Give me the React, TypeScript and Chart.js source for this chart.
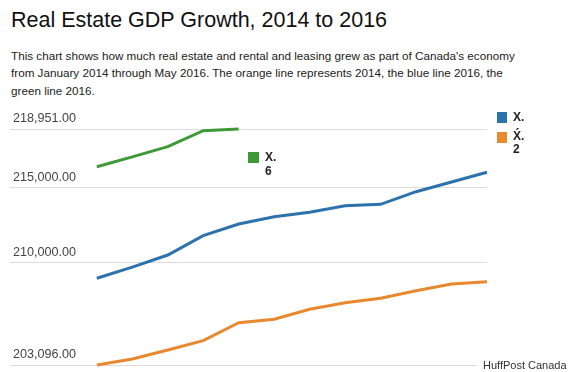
import React, { useEffect, useRef } from "react";
import { Chart, registerables } from "chart.js";

Chart.register(...registerables);

const months = ["Jan", "Feb", "Mar", "Apr", "May", "Jun", "Jul", "Aug", "Sep", "Oct", "Nov", "Dec"];
const series2014 = [203096, 203500, 204104, 204729, 205938, 206167, 206838, 207282, 207577, 208088, 208538, 208693];
const series2015 = [208921, 209667, 210486, 211783, 212569, 213059, 213355, 213798, 213892, 214739, 215390, 216042];
const series2016 = [216418, 217077, 217762, 218837, 218951];
const yTicks = [203096, 210000, 215000, 218951];

const titleText = "Real Estate GDP Growth, 2014 to 2016";
const subtitleLines = [
  "This chart shows how much real estate and rental and leasing grew as part of Canada's economy",
  "from January 2014 through May 2016. The orange line represents 2014, the blue line 2016, the",
  "green line 2016.",
];
const sourceText = "HuffPost Canada";

const colors = { c2014: "#e8892f", c2015: "#2d72ac", c2016: "#3d9a37" };

const FONT = "Arial, 'Liberation Sans', sans-serif";

export default function App() {
  const canvasRef = useRef<HTMLCanvasElement | null>(null);

  useEffect(() => {
    if (!canvasRef.current) return;
    const toPts = (arr: number[]) => arr.map((v, i) => ({ x: i, y: v }));
    const ds = (label: string, arr: number[], color: string) =>
      ({ label, data: toPts(arr), borderColor: color, backgroundColor: color, borderWidth: 3, pointRadius: 0, tension: 0, clip: false } as any);
    const chart = new Chart(canvasRef.current, {
      type: "line",
      data: {
        labels: months,
        datasets: [
          ds("2016", series2016, colors.c2016),
          ds("2015", series2015, colors.c2015),
          ds("2014", series2014, colors.c2014),
        ],
      },
      options: {
        animation: false,
        responsive: false,
        maintainAspectRatio: false,
        layout: { padding: { left: 4, top: 129, right: 83, bottom: 15 } },
        plugins: { legend: { display: false }, tooltip: { enabled: false }, title: { display: false } },
        scales: {
          x: { type: "linear", min: -2.448, max: 11, display: false },
          y: {
            type: "linear",
            min: yTicks[0],
            max: yTicks[yTicks.length - 1],
            afterBuildTicks: (axis: any) => {
              axis.ticks = yTicks.map((v) => ({ value: v }));
            },
            border: { display: false },
            grid: { color: "#dcdcdc", lineWidth: 1, drawTicks: false },
            ticks: {
              mirror: true,
              padding: 3,
              labelOffset: -10,
              color: "#444",
              font: { family: FONT, size: 12.6 },
              callback: (v: any) =>
                Number(v).toLocaleString("en-US", { minimumFractionDigits: 2, maximumFractionDigits: 2 }),
            },
          },
        },
      },
    });
    return () => chart.destroy();
  }, []);

  const abs = (s: React.CSSProperties): React.CSSProperties => ({ position: "absolute", ...s });

  return (
    <div style={abs({ left: 0, top: 0, width: 570, height: 372, background: "#fff", fontFamily: FONT, overflow: "hidden" })}>
      <div style={abs({ left: 11, top: 10, fontSize: 21.5, lineHeight: "21.5px", color: "#111", whiteSpace: "nowrap" })}>{titleText}</div>
      <div style={abs({ left: 11, top: 46.5, fontSize: 11.7, lineHeight: "17.5px", color: "#222", whiteSpace: "nowrap" })}>
        {subtitleLines.map((l, i) => (
          <div key={i}>{l}</div>
        ))}
      </div>
      <canvas ref={canvasRef} width={570} height={380} style={abs({ left: 0, top: 0, width: 570, height: 380 })} />
      {/* legend: right side */}
      <div style={abs({ left: 497, top: 112, width: 10, height: 11, background: colors.c2015 })} />
      <div style={abs({ left: 513, top: 110, fontSize: 12, lineHeight: "14px", color: "#222", fontWeight: 600 })}>X.</div>
      <div style={abs({ left: 497, top: 132, width: 10, height: 11, background: colors.c2014 })} />
      <div style={abs({ left: 513, top: 130, fontSize: 12, lineHeight: "13px", color: "#222", fontWeight: 600 })}>
        <div>{"X\u0301."}</div>
        <div>2</div>
      </div>
      {/* legend: green, inside */}
      <div style={abs({ left: 248, top: 152, width: 11, height: 11, background: colors.c2016 })} />
      <div style={abs({ left: 265, top: 150, fontSize: 12, lineHeight: "14px", color: "#222", fontWeight: 700 })}>
        <div>X.</div>
        <div>6</div>
      </div>
      <div style={abs({ left: 477, top: 358, paddingLeft: 6, background: "#fff", fontSize: 11, lineHeight: "14px", color: "#333", whiteSpace: "nowrap" })}>{sourceText}</div>
    </div>
  );
}
